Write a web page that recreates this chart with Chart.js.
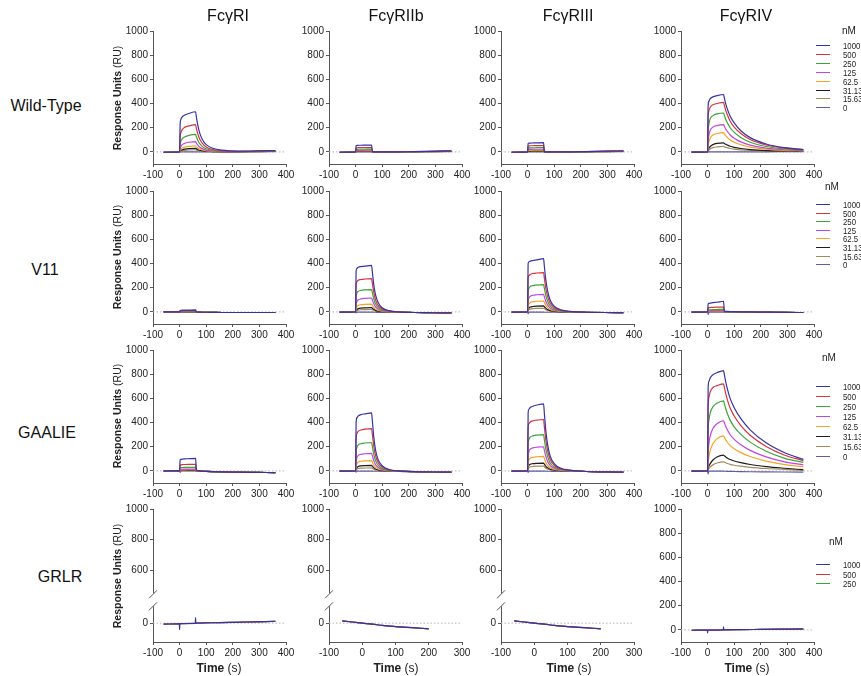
<!DOCTYPE html>
<html><head><meta charset="utf-8">
<script src="https://cdn.jsdelivr.net/npm/chart.js@4.4.1/dist/chart.umd.min.js"></script>
<style>
html,body{margin:0;padding:0;background:#fff;}
#wrap{position:relative;width:861px;height:676px;overflow:hidden;font-family:'Liberation Sans',Arial,sans-serif;color:#111;}
canvas{position:absolute;}
.t{position:absolute;white-space:nowrap;line-height:1;}
.coltitle{font-size:16px;transform:translate(-50%,-50%);color:#111;}
.rowlabel{font-size:16px;transform:translate(-50%,-50%);color:#111;}
.ytitle{font-size:10.5px;transform:translate(-50%,-50%) rotate(-90deg);color:#222;}
.xtitle{font-size:12px;transform:translate(-50%,-50%);color:#222;}
.nm{font-size:10px;transform:translate(-50%,-50%);color:#222;}
.legline{position:absolute;height:1px;width:14px;}
.legtxt{position:absolute;font-size:9.5px;line-height:1;transform:translateY(-50%) scaleX(0.82);transform-origin:left center;color:#222;white-space:nowrap;}
</style></head>
<body><div id="wrap"></div>
<script>
// ---------- DATA ----------
const tMain  = [-60, 0, 2, 5, 10, 20, 35, 60, 63, 68, 75, 85, 100, 125, 160, 220, 290, 360];
const tSpike = [-60, -1, 0, 1, 59, 60, 61, 120, 200, 280, 360];
const tShort = [-60, -30, 0, 30, 60, 100, 150, 200];

const concentrations = ['1000', '500', '250', '125', '62.5', '31.13', '15.63', '0'];
const grlrConcentrations = ['1000', '500', '250'];
const receptors = ['FcγRI', 'FcγRIIb', 'FcγRIII', 'FcγRIV'];
const variants = ['Wild-Type', 'V11', 'GAALIE', 'GRLR'];
const yTicks = [0, 200, 400, 600, 800, 1000];
const yTicksUpper = [600, 800, 1000];
const yTicksLower = [0];
const xTicks = [-100, 0, 100, 200, 300, 400];
const xTicksShort = [-100, 0, 100, 200, 300];

const wtRI = [
 [-3,0,230,270,290,305,318,332,290,225,160,105,60,30,14,6,8,10],
 [-3,0,120,160,185,205,215,225,196,153,108,72,40,20,9,4,6,8],
 [-3,0,60,90,110,125,137,145,126,99,70,46,26,13,6,3,5,7],
 [-3,0,30,45,60,72,80,85,74,58,41,27,15,8,3,2,4,6],
 [-3,0,15,25,33,40,46,50,44,34,24,16,9,5,2,2,3,5],
 [-3,0,8,13,18,23,27,30,26,20,14,10,5,3,1,1,3,4],
 [-3,0,4,7,10,13,16,18,16,12,9,6,3,2,1,1,2,4],
 [-3,0,1,1,1,1,1,1,0,0,0,0,0,0,0,1,2,3]];
const wtRIIb = [
 [-3,0,52,54,55,55,56,57,3,1,0,0,0,0,1,2,5,8],
 [-3,0,33,34,35,35,36,36,2,1,0,0,0,0,1,2,4,7],
 [-3,0,20,21,22,22,22,23,1,0,0,0,0,0,1,2,4,6],
 [-3,0,12,13,13,13,14,14,1,0,0,0,0,0,1,2,4,6],
 [-3,0,7,8,8,8,8,9,0,0,0,0,0,0,1,2,3,5],
 [-3,0,4,5,5,5,5,5,0,0,0,0,0,0,1,2,3,5],
 [-3,0,2,3,3,3,3,3,0,0,0,0,0,0,1,1,3,4],
 [-3,0,0,0,0,0,0,0,0,0,0,0,0,0,0,1,2,3]];
const wtRIII = [
 [-3,0,70,72,73,74,75,76,4,1,0,0,0,0,1,3,6,8],
 [-3,0,48,50,51,51,52,52,3,1,0,0,0,0,1,2,5,7],
 [-3,0,31,33,34,34,35,35,2,0,0,0,0,0,1,2,4,6],
 [-3,0,19,21,21,22,22,22,1,0,0,0,0,0,1,2,4,6],
 [-3,0,12,13,13,14,14,14,1,0,0,0,0,0,1,2,3,5],
 [-3,0,6,7,7,8,8,8,0,0,0,0,0,0,1,2,3,5],
 [-3,0,3,4,4,4,4,4,0,0,0,0,0,0,1,1,3,4],
 [-3,0,0,0,0,0,0,0,0,0,0,0,0,0,0,1,2,3]];
const wtRIV = [
 [-2,0,380,420,440,455,465,475,445,400,350,295,240,175,118,65,35,20],
 [-2,0,280,340,370,390,400,410,385,345,303,254,205,152,102,57,31,17],
 [-2,0,170,230,275,300,315,322,303,270,238,200,161,119,80,45,25,14],
 [-2,0,90,140,180,205,218,225,212,189,167,140,113,83,56,32,18,11],
 [-2,0,50,85,115,140,152,160,150,134,118,99,80,59,40,23,13,9],
 [-2,0,15,30,45,60,70,75,70,63,56,47,38,28,19,11,8,6],
 [-2,0,8,16,25,35,41,45,42,38,33,28,23,17,12,8,6,5],
 [-2,0,0,0,0,0,0,0,0,0,0,0,0,0,1,1,2,3]];

const v11RI = [
 [0,0,12,13,14,14,15,16,1,-1,-2,-3,-3,-4,-5,-5,-5,-5],
 [0,0,8,9,9,10,10,10,0,-1,-2,-3,-3,-4,-5,-5,-5,-5],
 [0,0,5,5,6,6,6,6,0,-1,-2,-3,-3,-4,-5,-5,-5,-5],
 [0,0,3,3,3,3,4,4,0,-1,-2,-3,-3,-4,-5,-5,-5,-5],
 [0,0,2,2,2,2,2,2,0,-1,-2,-3,-3,-4,-5,-5,-5,-5],
 [0,0,1,1,1,1,1,1,0,-1,-2,-3,-3,-4,-5,-5,-5,-5],
 [0,0,1,1,1,1,1,1,0,-1,-2,-3,-3,-4,-5,-5,-5,-5],
 [0,0,0,0,0,0,0,0,0,-1,-2,-3,-3,-4,-5,-5,-5,-5]];
const v11RIIb = [
 [-2,0,340,360,370,375,378,385,330,230,140,75,35,10,0,-5,-7,-8],
 [-2,0,220,250,262,268,272,275,236,165,99,52,25,7,0,-5,-7,-8],
 [-2,0,120,155,170,178,182,185,159,111,67,35,17,5,0,-5,-7,-8],
 [-2,0,60,85,100,108,112,115,99,69,41,22,10,3,-1,-5,-7,-8],
 [-2,0,30,45,55,60,63,65,56,39,23,12,6,2,-1,-5,-7,-8],
 [-2,0,12,20,27,31,33,35,30,21,13,7,3,1,-1,-5,-7,-8],
 [-2,0,6,11,15,18,19,20,17,12,7,4,2,0,-1,-5,-7,-8],
 [-2,0,-8,-3,-2,-2,-2,-2,-2,-3,-3,-4,-4,-5,-5,-5,-7,-8]];
const v11RIII = [
 [-2,0,400,415,420,425,430,440,378,273,176,97,48,18,4,-3,-5,-6],
 [-2,0,280,300,310,318,322,325,280,202,130,72,36,13,3,-3,-5,-6],
 [-2,0,160,195,210,218,222,225,194,140,90,50,25,9,2,-3,-5,-6],
 [-2,0,85,115,130,138,142,145,125,90,58,32,16,6,1,-3,-5,-6],
 [-2,0,45,65,77,84,88,90,77,56,36,20,10,4,0,-3,-5,-6],
 [-2,0,20,32,40,45,48,50,43,31,20,11,6,2,0,-3,-5,-6],
 [-2,0,10,18,23,27,29,30,26,19,12,7,3,1,0,-3,-5,-6],
 [-2,0,-15,-3,-2,-2,-2,-2,-3,-3,-3,-3,-3,-4,-4,-4,-5,-6]];
const v11RIV = [
 [-2,0,65,70,73,77,80,88,8,5,4,3,2,1,0,-2,-4,-5],
 [-2,0,32,35,36,38,39,40,4,3,2,2,1,0,-1,-2,-4,-5],
 [-2,0,15,17,18,19,20,21,2,1,1,1,0,0,-1,-2,-4,-5],
 [-2,0,9,10,11,11,12,12,1,1,0,0,0,0,-1,-2,-4,-5],
 [-2,0,5,6,6,7,7,7,1,0,0,0,0,0,-1,-2,-4,-5],
 [-2,0,3,3,4,4,4,4,0,0,0,0,0,0,-1,-2,-4,-5],
 [-2,0,1,2,2,2,2,2,0,0,0,0,0,0,-1,-2,-4,-5],
 [-2,0,-20,-2,-1,-1,-1,-1,-1,-1,-1,-1,-1,-1,-1,-2,-4,-5]];

const gaalieRI = [
 [0,0,90,95,97,99,101,104,15,3,0,-2,-4,-6,-8,-10,-12,-14],
 [0,0,45,50,52,53,54,55,8,1,-1,-2,-4,-6,-8,-10,-12,-14],
 [0,0,24,27,28,29,30,30,4,0,-1,-2,-4,-6,-8,-10,-12,-14],
 [0,0,12,13,14,14,15,15,2,0,-1,-2,-4,-6,-8,-10,-12,-14],
 [0,0,7,8,9,9,10,10,1,0,-1,-2,-4,-6,-8,-10,-12,-14],
 [0,0,4,5,5,6,6,6,0,-1,-1,-2,-4,-6,-8,-10,-12,-14],
 [0,0,2,2,3,3,3,3,0,-1,-1,-2,-4,-6,-8,-10,-12,-14],
 [0,0,-12,-1,0,0,0,0,-1,-1,-1,-2,-4,-6,-8,-10,-12,-14]];
const gaalieRIIb = [
 [-2,0,400,440,455,465,472,480,413,288,173,91,43,12,0,-6,-9,-10],
 [-2,0,270,310,328,338,345,350,301,210,126,67,32,9,0,-6,-9,-10],
 [-2,0,150,195,215,225,231,235,202,141,85,45,21,6,-1,-6,-9,-10],
 [-2,0,75,110,128,138,142,145,125,87,52,28,13,4,-1,-6,-9,-10],
 [-2,0,38,60,73,80,83,85,73,51,31,16,8,2,-1,-6,-9,-10],
 [-2,0,16,28,37,42,44,45,39,27,16,9,4,1,-2,-6,-9,-10],
 [-2,0,8,15,20,23,24,25,22,15,9,5,2,0,-2,-6,-9,-10],
 [-2,0,-10,-2,-2,-2,-2,-2,-2,-3,-3,-3,-4,-4,-5,-6,-9,-10]];
const gaalieRIII = [
 [-2,0,480,510,525,535,545,555,477,344,222,122,61,22,6,-5,-8,-10],
 [-2,0,350,390,405,415,420,425,366,264,170,94,47,17,4,-5,-8,-10],
 [-2,0,210,260,280,290,296,300,258,186,120,66,33,12,3,-5,-8,-10],
 [-2,0,115,160,180,190,196,200,172,124,80,44,22,8,2,-5,-8,-10],
 [-2,0,60,90,105,113,117,120,103,74,48,26,13,5,1,-5,-8,-10],
 [-2,0,28,45,55,60,63,65,56,40,26,14,7,3,0,-5,-8,-10],
 [-2,0,15,26,33,37,39,40,34,25,16,9,4,2,0,-5,-8,-10],
 [-2,0,-12,-2,-2,-2,-2,-2,-2,-3,-3,-3,-4,-4,-5,-5,-8,-10]];
const gaalieRIV = [
 [-2,0,690,740,770,795,812,830,797,739,672,598,523,432,340,232,150,95],
 [-2,0,520,610,655,690,705,720,691,641,583,518,454,374,295,202,130,85],
 [-2,0,330,420,480,530,560,580,557,516,470,418,365,302,238,162,104,70],
 [-2,0,150,230,290,350,390,415,398,369,336,299,261,216,170,116,75,50],
 [-2,0,70,120,170,225,265,290,278,258,235,209,183,151,119,81,52,35],
 [-2,0,20,40,60,90,115,130,125,116,105,94,82,68,53,36,22,10],
 [-2,0,10,20,33,50,65,75,72,67,61,54,47,39,30,20,12,5],
 [-2,0,-25,-3,-2,-2,-2,-2,-3,-3,-4,-4,-5,-6,-7,-8,-9,-10]];

const grlrRI = [
 [-5,-4,-35,-3,-1,30,0,2,4,7,10],
 [-5,-4,-4,-3,-1,-1,0,2,4,7,10],
 [-5,-4,-4,-3,-1,-1,0,2,4,7,9]];
const grlrRIIb = [
 [12,6,0,-5,-12,-18,-24,-30],
 [12,6,0,-5,-12,-18,-24,-30],
 [11,6,0,-5,-12,-18,-24,-29]];
const grlrRIII = [
 [12,6,0,-5,-12,-18,-24,-30],
 [12,6,0,-5,-12,-18,-24,-30],
 [11,6,0,-5,-12,-18,-24,-29]];
const grlrRIV = [
 [-3,-2,-25,-2,0,25,1,2,4,6,8],
 [-3,-2,-2,-2,0,0,1,2,4,6,8],
 [-3,-2,-2,-2,0,0,1,2,4,6,7]];

// ---------- STYLE / LAYOUT ----------
const colors = ['#3434a8', '#d8343c', '#3aa63a', '#c244e2', '#f5a425', '#1c1c1c', '#a58b5c', '#5c5ca8'];
const colL = [153, 329, 501, 681];
const rowT = [31, 191, 350, 509];
const PW = 133, PH = 133;
const PADT = 8, PADR = 16, YW = 40, XH = 24;
const AXC = '#555';

Chart.defaults.font.family = "'Liberation Sans', Arial, sans-serif";
Chart.defaults.font.size = 10;
Chart.defaults.color = '#222';

const wrap = document.getElementById('wrap');

function yScale(min, max, ticks, extra) {
  return Object.assign({
    type: 'linear', position: 'left', min: min, max: max,
    afterBuildTicks: s => { s.ticks = ticks.map(v => ({ value: v })); },
    afterFit: s => { s.width = YW; },
    grid: { drawOnChartArea: false, drawTicks: true, tickLength: 3, color: AXC, lineWidth: 1 },
    border: { display: true, color: AXC, width: 1 },
    ticks: { padding: 2, color: '#222', font: { size: 10 }, callback: v => String(v) }
  }, extra || {});
}
function xScale(max, ticks) {
  return {
    type: 'linear', position: 'bottom', min: -100, max: max,
    afterBuildTicks: s => { s.ticks = ticks.map(v => ({ value: v })); },
    afterFit: s => { s.height = XH; },
    grid: { drawOnChartArea: false, drawTicks: true, tickLength: 3, color: AXC, lineWidth: 1 },
    border: { display: true, color: AXC, width: 1 },
    ticks: { padding: 2, color: '#222', font: { size: 10 }, maxRotation: 0, autoSkip: false, callback: v => String(v) }
  };
}

const breakPlugin = {
  id: 'axisBreak',
  afterDraw(chart) {
    if (!chart.options.plugins.axisBreak || !chart.options.plugins.axisBreak.on) return;
    const up = chart.scales.yTop;
    const ctx = chart.ctx;
    const x = chart.chartArea.left;
    const j = up.bottom;
    ctx.save();
    ctx.fillStyle = '#fff';
    ctx.fillRect(x - 2, j - 7, 4, 13);
    ctx.strokeStyle = AXC;
    ctx.lineWidth = 1;
    [-6, 6].forEach(d => {
      ctx.beginPath();
      ctx.moveTo(x - 4, j + d + 4);
      ctx.lineTo(x + 4, j + d - 4);
      ctx.stroke();
    });
    ctx.restore();
  }
};
Chart.register(breakPlugin);

function makePanel(r, c, tArr, rows, labels, xMax, xT, broken) {
  const L = colL[c], T = rowT[r];
  const cv = document.createElement('canvas');
  const w = PW + YW + PADR, h = PH + PADT + XH;
  cv.width = w; cv.height = h;
  cv.style.left = (L - YW) + 'px';
  cv.style.top = (T - PADT) + 'px';
  wrap.appendChild(cv);

  const datasets = rows.map((vals, i) => ({
    label: labels[i] + ' nM',
    data: tArr.map((t, k) => ({ x: t, y: vals[k] })),
    borderColor: colors[i],
    borderWidth: 1.2,
    pointRadius: 0,
    fill: false,
    cubicInterpolationMode: 'monotone',
    yAxisID: 'y'
  }));
  datasets.push({
    label: 'baseline',
    data: [{ x: -100, y: 0 }, { x: xMax, y: 0 }],
    borderColor: '#b5b5b5', borderWidth: 1, borderDash: [1.5, 2],
    pointRadius: 0, order: 10, yAxisID: 'y'
  });

  let scales;
  if (broken) {
    scales = {
      x: xScale(xMax, xT),
      yTop: yScale(406, 1000, yTicksUpper, { stack: 'brk', stackWeight: 92, weight: 2 }),
      y: yScale(-100, 121, yTicksLower, { stack: 'brk', stackWeight: 42, weight: 1 })
    };
  } else {
    scales = { x: xScale(xMax, xT), y: yScale(-100, 1000, yTicks) };
  }

  new Chart(cv, {
    type: 'line',
    data: { datasets: datasets },
    options: {
      responsive: false, animation: false, devicePixelRatio: 1, events: [],
      layout: { padding: { top: PADT, right: PADR, left: 0, bottom: 0 } },
      plugins: { legend: { display: false }, tooltip: { enabled: false }, axisBreak: { on: !!broken } },
      scales: scales
    }
  });
}

const mainPanels = [
  [wtRI, wtRIIb, wtRIII, wtRIV],
  [v11RI, v11RIIb, v11RIII, v11RIV],
  [gaalieRI, gaalieRIIb, gaalieRIII, gaalieRIV]
];
mainPanels.forEach((row, r) => row.forEach((p, c) => makePanel(r, c, tMain, p, concentrations, 400, xTicks, false)));
makePanel(3, 0, tSpike, grlrRI, grlrConcentrations, 400, xTicks, true);
makePanel(3, 1, tShort, grlrRIIb, grlrConcentrations, 300, xTicksShort, true);
makePanel(3, 2, tShort, grlrRIII, grlrConcentrations, 300, xTicksShort, true);
makePanel(3, 3, tSpike, grlrRIV, grlrConcentrations, 400, xTicks, false);

// ---------- TEXT ----------
function txt(cls, x, y, html) {
  const d = document.createElement('div');
  d.className = 't ' + cls;
  d.style.left = x + 'px'; d.style.top = y + 'px';
  d.innerHTML = html;
  wrap.appendChild(d);
  return d;
}
const colTitleX = [228, 396, 568, 746];
receptors.forEach((rc, i) => txt('coltitle', colTitleX[i], 16, rc));
const rowLabelPos = [[46, 106], [45, 270], [47, 433], [60, 577]];
variants.forEach((v, i) => txt('rowlabel', rowLabelPos[i][0], rowLabelPos[i][1], v));
const yTitleY = [98, 257, 416, 576];
yTitleY.forEach(y => txt('ytitle', 117, y, '<b>Response Units</b> (RU)'));
const xTitleX = [219, 396, 569, 747];
xTitleX.forEach(x => txt('xtitle', x, 668, '<b>Time</b> (s)'));

// legends
const legendPos = [
  { nmx: 849, nmy: 31, y0: 45, dy: 8.9, labels: concentrations },
  { nmx: 832, nmy: 187, y0: 204, dy: 8.6, labels: concentrations },
  { nmx: 829, nmy: 358, y0: 386, dy: 10, labels: concentrations },
  { nmx: 836, nmy: 542, y0: 564, dy: 9.5, labels: grlrConcentrations }
];
legendPos.forEach(lp => {
  txt('nm', lp.nmx, lp.nmy, 'nM');
  lp.labels.forEach((lab, i) => {
    const y = Math.round(lp.y0 + i * lp.dy);
    const ln = document.createElement('div');
    ln.className = 'legline';
    ln.style.left = '816px'; ln.style.top = y + 'px';
    ln.style.background = colors[i];
    wrap.appendChild(ln);
    const tx = document.createElement('div');
    tx.className = 'legtxt';
    tx.style.left = '843px'; tx.style.top = (y + 0.5) + 'px';
    tx.textContent = lab;
    wrap.appendChild(tx);
  });
});
</script>
</body></html>
